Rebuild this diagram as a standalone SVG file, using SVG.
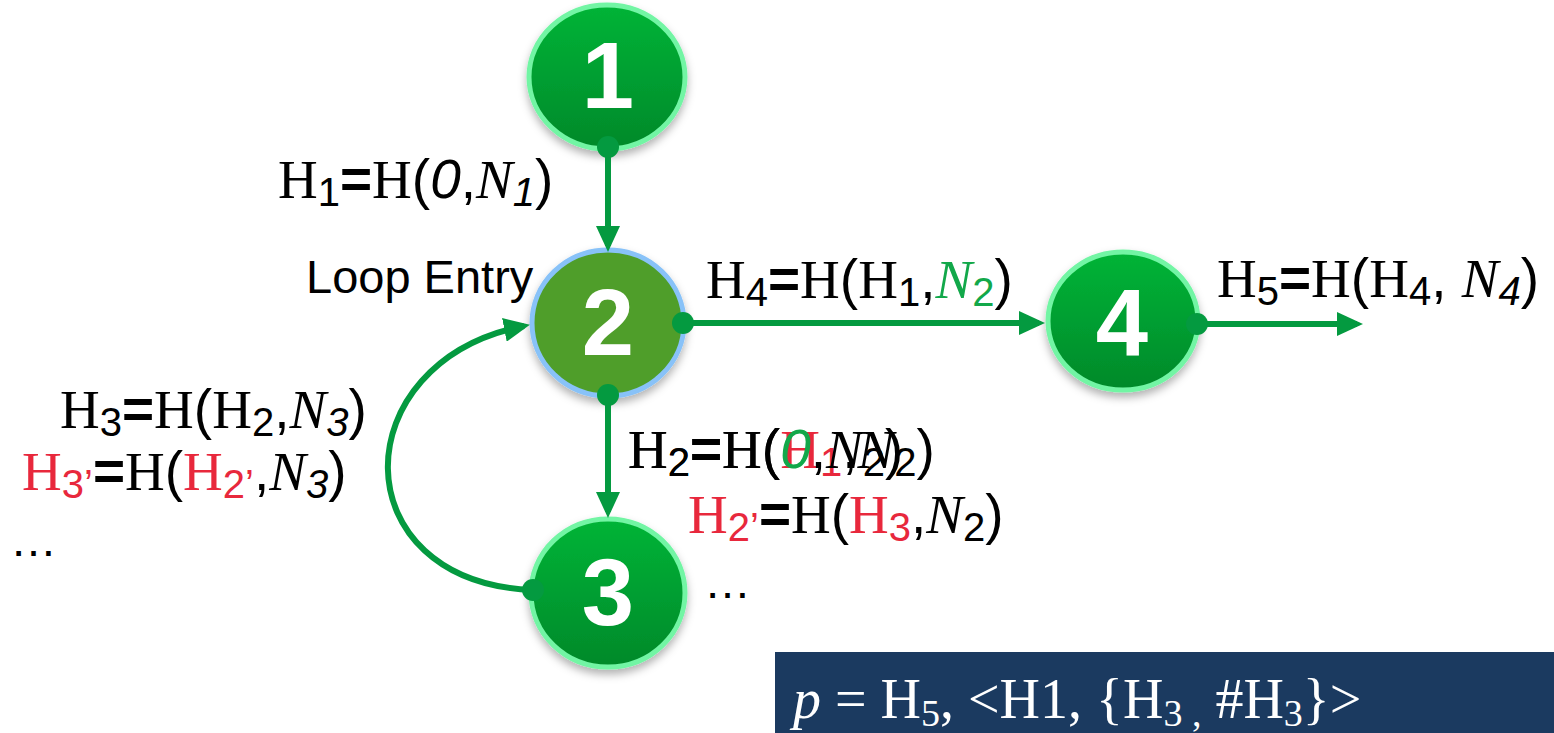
<svg xmlns="http://www.w3.org/2000/svg" width="1554" height="733" viewBox="0 0 1554 733">
<style>
text{font-family:"Liberation Serif",serif;font-size:55px;fill:#000}
.s{font-family:"Liberation Sans",Arial,sans-serif}
.b{font-family:"Liberation Sans",Arial,sans-serif;font-weight:bold}
.i{font-style:italic}
.sub{font-family:"Liberation Sans",Arial,sans-serif;font-size:40px}
.r{fill:#e8283c}
.g{fill:#12a84a}
.num{font-family:"Liberation Sans",Arial,sans-serif;font-weight:bold;font-size:94px;fill:#fff;text-anchor:middle}
.lbl{font-family:"Liberation Sans",Arial,sans-serif;font-size:47px}
.edge{stroke:#049a40;stroke-width:6;fill:none}
.dot{fill:#049a40}
.node{fill:url(#gr);stroke:#72f5a4;stroke-width:5;filter:url(#sh)}
.box{fill:#1b3a60}
.bt{fill:#fff;font-size:56px}
</style>
<defs>
<linearGradient id="gr" x1="0" y1="0" x2="0" y2="1">
<stop offset="0" stop-color="#04b437"/>
<stop offset="1" stop-color="#02892a"/>
</linearGradient>
<filter id="sh" x="-20%" y="-20%" width="140%" height="150%">
<feDropShadow dx="0" dy="5" stdDeviation="4" flood-color="#000" flood-opacity="0.3"/>
</filter>
<marker id="ar" markerUnits="userSpaceOnUse" markerWidth="26" markerHeight="24" refX="20" refY="12" orient="auto">
<path d="M0,0 L26,12 L0,24 z" fill="#049a40"/>
</marker>
</defs>

<g id="node1">
<ellipse class="node" cx="607" cy="77" rx="78" ry="72"/>
<text class="num" x="608" y="108">1</text>
</g>
<g id="node2">
<ellipse cx="608" cy="323" rx="76" ry="73" fill="#4f9e2c" stroke="#88c2f8" stroke-width="5" filter="url(#sh)"/>
<text class="num" x="608" y="355">2</text>
</g>
<g id="node3">
<ellipse class="node" cx="608" cy="593" rx="77" ry="74"/>
<text class="num" x="608" y="625">3</text>
</g>
<g id="node4">
<ellipse class="node" cx="1123" cy="321" rx="75" ry="69"/>
<text class="num" x="1122" y="355">4</text>
</g>

<g id="connectors">
<line class="edge" x1="608" y1="147" x2="608" y2="246" marker-end="url(#ar)"/>
<circle class="dot" cx="608" cy="147" r="11"/>
<line class="edge" x1="683" y1="323" x2="1039" y2="323" marker-end="url(#ar)"/>
<circle class="dot" cx="683" cy="323" r="11"/>
<line class="edge" x1="1197" y1="324" x2="1357" y2="324" marker-end="url(#ar)"/>
<circle class="dot" cx="1197" cy="324" r="11"/>
<line class="edge" x1="608" y1="395" x2="608" y2="512" marker-end="url(#ar)"/>
<circle class="dot" cx="608" cy="395" r="11"/>
<path class="edge" d="M533,590 C340,582 342,362 524,326" marker-end="url(#ar)"/>
<circle class="dot" cx="533" cy="590" r="11"/>
</g>

<g id="labels">
<text x="278" y="198">H<tspan class="sub" dy="8">1</tspan><tspan class="b" dy="-8">=</tspan>H<tspan class="s">(</tspan><tspan class="s i">0</tspan><tspan class="s">,</tspan><tspan class="i">N</tspan><tspan class="sub i" dy="8">1</tspan><tspan class="s" dy="-8">)</tspan></text>

<text class="lbl" x="306" y="293">Loop Entry</text>

<text x="706" y="298">H<tspan class="sub" dy="8">4</tspan><tspan class="b" dy="-8">=</tspan>H<tspan class="s">(</tspan>H<tspan class="sub" dy="8">1</tspan><tspan class="s" dy="-8">,</tspan><tspan class="i g">N</tspan><tspan class="sub g" dy="8">2</tspan><tspan class="s" dy="-8">)</tspan></text>

<text x="1217" y="297">H<tspan class="sub" dy="8">5</tspan><tspan class="b" dy="-8">=</tspan>H<tspan class="s">(</tspan>H<tspan class="sub" dy="8">4</tspan><tspan class="s" dy="-8">, </tspan><tspan class="i">N</tspan><tspan class="sub i" dy="8">4</tspan><tspan class="s" dy="-8">)</tspan></text>

<text x="60" y="428">H<tspan class="sub" dy="8">3</tspan><tspan class="b" dy="-8">=</tspan>H<tspan class="s">(</tspan>H<tspan class="sub" dy="8">2</tspan><tspan class="s" dy="-8">,</tspan><tspan class="i">N</tspan><tspan class="sub i" dy="8">3</tspan><tspan class="s" dy="-8">)</tspan></text>

<text x="22" y="490"><tspan class="r">H</tspan><tspan class="sub r" dy="8">3’</tspan><tspan class="b" dy="-8">=</tspan>H<tspan class="s">(</tspan><tspan class="r">H</tspan><tspan class="sub r" dy="8">2’</tspan><tspan class="s" dy="-8">,</tspan><tspan class="i">N</tspan><tspan class="sub i" dy="8">3</tspan><tspan class="s" dy="-8">)</tspan></text>

<text class="lbl" x="10" y="556">…</text>

<text x="628" y="468">H<tspan class="sub" dy="8">2</tspan><tspan class="b" dy="-8">=</tspan>H<tspan class="s">(</tspan><tspan class="r">H</tspan><tspan class="sub r" dy="8">1</tspan><tspan class="s" dy="-8">,</tspan><tspan class="i">N</tspan><tspan class="sub" dy="8">2</tspan><tspan class="s" dy="-8">)</tspan></text>
<text x="628" y="468">H<tspan class="sub" dy="8">2</tspan><tspan class="b" dy="-8">=</tspan>H<tspan class="s">(</tspan><tspan class="s i g">0</tspan><tspan class="s">,</tspan><tspan class="i">N</tspan><tspan class="sub" dy="8">2</tspan><tspan class="s" dy="-8">)</tspan></text>

<text x="688" y="533"><tspan class="r">H</tspan><tspan class="sub r" dy="8">2’</tspan><tspan class="b" dy="-8">=</tspan>H<tspan class="s">(</tspan><tspan class="r">H</tspan><tspan class="sub r" dy="8">3</tspan><tspan class="s" dy="-8">,</tspan><tspan class="i">N</tspan><tspan class="sub" dy="8">2</tspan><tspan class="s" dy="-8">)</tspan></text>

<text class="lbl" x="704" y="598">…</text>
</g>

<g id="formula">
<rect class="box" x="775" y="652" width="779" height="81"/>
<text class="bt" x="793" y="718"><tspan class="i">p</tspan> = H<tspan font-size="38" dy="8">5</tspan><tspan dy="-8">, &lt;H1, {H</tspan><tspan font-size="38" dy="8">3 ,</tspan><tspan dy="-8"> #H</tspan><tspan font-size="38" dy="8">3</tspan><tspan dy="-8">}&gt;</tspan></text>
</g>
</svg>
